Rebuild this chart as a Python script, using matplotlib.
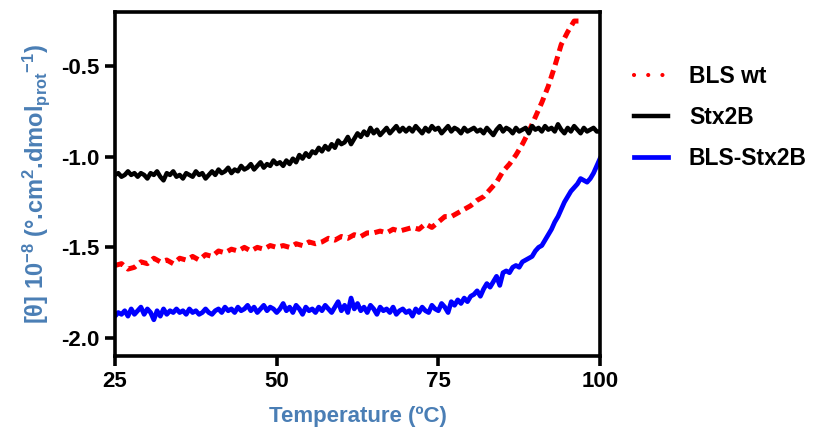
import numpy as np
import matplotlib
matplotlib.use("Agg")
from matplotlib import pyplot as plt

plt.rcParams["font.family"] = ["Liberation Sans", "DejaVu Sans"]
plt.rcParams["font.weight"] = "bold"
plt.rcParams["axes.labelweight"] = "bold"
plt.rcParams["mathtext.fontset"] = "custom"
plt.rcParams["mathtext.bf"] = "Liberation Sans:bold"
plt.rcParams["mathtext.rm"] = "Liberation Sans:bold"
plt.rcParams["mathtext.default"] = "bf"

LABEL_BLUE = "#4a7eb5"

# temperature grids (degrees C)
temp_fine = np.arange(25.0, 100.01, 0.5)
temp_bls = np.arange(25.0, 97.01, 1.0)

# Stx2B molar ellipticity, x 10^-6
stx2b = [
    -1.10, -1.09, -1.11, -1.10, -1.08, -1.10, -1.09, -1.11, -1.09, -1.10,
    -1.12, -1.09, -1.10, -1.08, -1.11, -1.13, -1.09, -1.10, -1.08, -1.11,
    -1.10, -1.12, -1.09, -1.10, -1.11, -1.08, -1.10, -1.09, -1.12, -1.10,
    -1.08,
    -1.10, -1.07, -1.09, -1.08, -1.06, -1.09, -1.07, -1.08, -1.05, -1.07,
    -1.06, -1.04, -1.07, -1.05, -1.03, -1.06, -1.04, -1.05, -1.02, -1.04,
    -1.03, -1.05, -1.02, -1.04, -1.01, -1.03, -0.99, -1.01, -0.98, -1.00,
    -0.97, -0.98, -0.95, -0.97, -0.94, -0.96, -0.93, -0.95, -0.91, -0.93,
    -0.92, -0.89, -0.93, -0.90, -0.87, -0.89, -0.86, -0.88, -0.84, -0.87,
    -0.85, -0.88, -0.86, -0.84, -0.87, -0.85, -0.83, -0.86, -0.84, -0.86,
    -0.84, -0.86, -0.83, -0.85, -0.87, -0.84, -0.86, -0.83, -0.85, -0.84,
    -0.87, -0.85, -0.83, -0.86, -0.84, -0.85, -0.87, -0.84, -0.86, -0.85,
    -0.84, -0.86, -0.85, -0.87, -0.84, -0.86, -0.88, -0.85, -0.83, -0.86,
    -0.84, -0.85, -0.87, -0.84, -0.86, -0.85, -0.84, -0.87, -0.83, -0.85,
    -0.84, -0.86, -0.83, -0.85, -0.84, -0.86, -0.82, -0.85, -0.87, -0.84,
    -0.86, -0.83, -0.85, -0.87, -0.84, -0.86, -0.85, -0.84, -0.86, -0.86,
]

# BLS-Stx2B chimera
bls_stx2b = [
    -1.88, -1.86, -1.87, -1.85, -1.88, -1.84, -1.87, -1.85, -1.83, -1.87,
    -1.84, -1.86, -1.90, -1.85, -1.88, -1.84, -1.87, -1.85, -1.86, -1.84,
    -1.86, -1.85, -1.87, -1.84, -1.86, -1.85, -1.87, -1.86, -1.84, -1.86,
    -1.87,
    -1.85, -1.84, -1.86, -1.83, -1.85, -1.84, -1.86, -1.83, -1.85, -1.84,
    -1.82, -1.85, -1.83, -1.86, -1.84, -1.82, -1.85, -1.83, -1.84, -1.86,
    -1.84, -1.81, -1.85, -1.83, -1.86, -1.82, -1.84, -1.87, -1.83, -1.85,
    -1.84, -1.86, -1.83, -1.85, -1.82, -1.84, -1.86, -1.83, -1.80, -1.85,
    -1.82, -1.86, -1.78, -1.84, -1.81, -1.85, -1.83, -1.86, -1.82, -1.84,
    -1.87, -1.83, -1.85, -1.84, -1.86, -1.83, -1.87, -1.85, -1.84, -1.86,
    -1.85, -1.88, -1.84, -1.86, -1.83, -1.85, -1.86, -1.82, -1.84, -1.85,
    -1.81, -1.83, -1.86, -1.80, -1.82, -1.79, -1.81, -1.78, -1.80, -1.77,
    -1.76, -1.74, -1.77, -1.73, -1.70, -1.72, -1.69, -1.66, -1.71, -1.64,
    -1.63, -1.64, -1.61, -1.60, -1.61, -1.58, -1.57, -1.56, -1.55, -1.52,
    -1.50, -1.49, -1.46, -1.43, -1.40, -1.36, -1.33, -1.29, -1.25, -1.22,
    -1.19, -1.17, -1.15, -1.12, -1.13, -1.14, -1.12, -1.09, -1.05, -1.01,
]

# BLS wild type, recorded up to 97 C
bls_wt = [
    -1.60, -1.59, -1.62, -1.61, -1.58, -1.59, -1.56, -1.58, -1.57, -1.59,
    -1.56, -1.57, -1.55, -1.57, -1.54, -1.55, -1.52, -1.53, -1.51, -1.52,
    -1.50, -1.52, -1.50, -1.51, -1.49, -1.50, -1.49, -1.50, -1.48, -1.49,
    -1.47, -1.48, -1.47, -1.45, -1.46, -1.44, -1.45, -1.43, -1.44, -1.42,
    -1.42, -1.41, -1.42, -1.40, -1.41, -1.40, -1.39, -1.40, -1.37, -1.39,
    -1.36, -1.33, -1.33, -1.31, -1.29, -1.27, -1.24, -1.22, -1.18, -1.14,
    -1.08, -1.04, -0.99, -0.93, -0.86, -0.78, -0.70, -0.61, -0.50, -0.38,
    -0.31, -0.25, -0.25,
]

x_ticks = [25, 50, 75, 100]
y_ticks = [-2.0, -1.5, -1.0, -0.5]

fig = plt.figure(figsize=(8.17, 4.36), dpi=100)
ax = fig.add_axes([0.1408, 0.1835, 0.5936, 0.789])

ax.plot(temp_bls, bls_wt, color="red", lw=3.6, linestyle=(0, (1.8, 1.1)),
        label="BLS wt")
ax.plot(temp_fine, stx2b, color="black", lw=3.2, label="Stx2B")
ax.plot(temp_fine, bls_stx2b, color="#0000ff", lw=3.4, label="BLS-Stx2B")

ax.set_xlim(25, 100)
ax.set_ylim(-2.1, -0.2)
ax.set_xticks(x_ticks)
ax.set_yticks(y_ticks)
ax.set_xticklabels([str(t) for t in x_ticks])
ax.set_yticklabels([f"{t:.1f}" for t in y_ticks])
ax.tick_params(axis="both", direction="out", length=7, width=2.6,
               labelsize=16, pad=4)
for side in ax.spines.values():
    side.set_linewidth(2.6)

ax.set_xlabel("Temperature (ºC)", fontsize=16, color=LABEL_BLUE, labelpad=10)
ax.set_ylabel(r"[θ] 10$^{-8}$ (°.cm$^{2}$.dmol$_{prot}$$^{-1}$)",
              fontsize=17, color=LABEL_BLUE, labelpad=7)

leg = ax.legend(loc="upper left", bbox_to_anchor=(1.07, 0.847), frameon=False,
                fontsize=16.5, handlelength=1.5, handletextpad=0.9,
                labelspacing=0.8, borderaxespad=0, borderpad=0)
# the dotted handle is drawn as three round dots
wt_handle = leg.get_lines()[0]
wt_handle.set_linewidth(3.0)
wt_handle.set_linestyle((0, (0.01, 3.4)))
wt_handle.set_dash_capstyle("round")

fig.savefig("out.png", dpi=100)
